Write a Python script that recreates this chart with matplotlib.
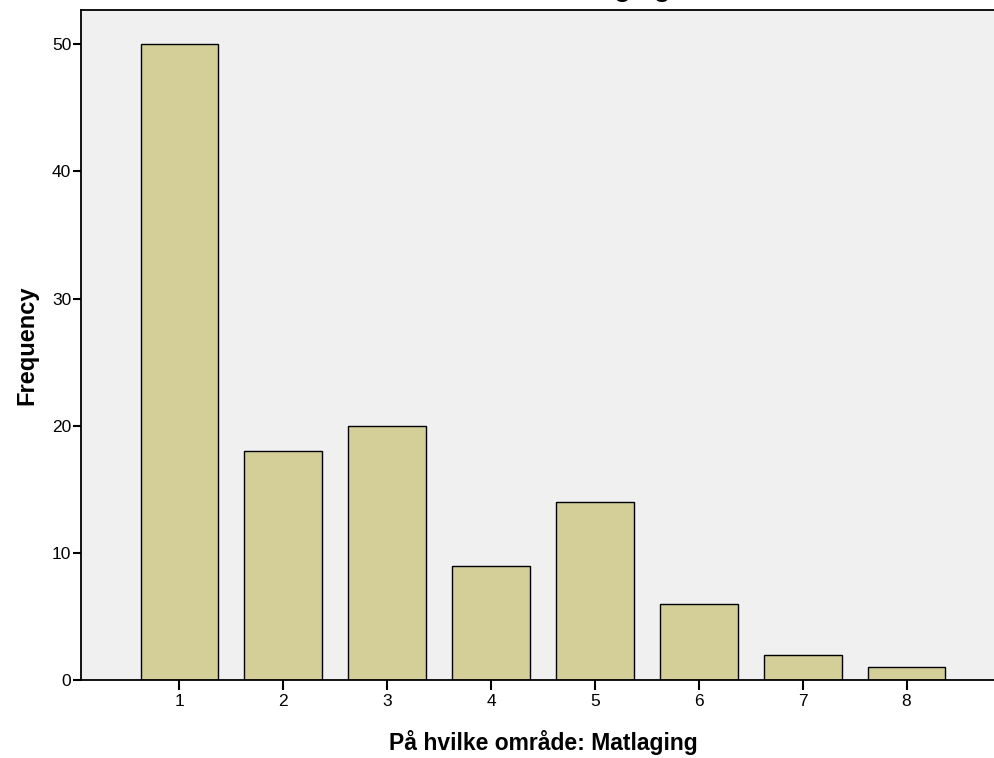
import matplotlib.pyplot as plt

plt.rcParams['font.family'] = ['Liberation Sans', 'DejaVu Sans']

# data
categories = [1, 2, 3, 4, 5, 6, 7, 8]
frequency = [50, 18, 20, 9, 14, 6, 2, 1]
y_ticks = [0, 10, 20, 30, 40, 50]

W, H = 994, 758
fig = plt.figure(figsize=(W / 100, H / 100), dpi=100)

# axes: left 81px, top 10px, bottom 680px, right spine just outside the picture
left, right, top, bottom = 81, 1005, 10, 680
ax = fig.add_axes([left / W, 1 - bottom / H, (right - left) / W, (bottom - top) / H])
ax.set_facecolor('#F0F0F0')

ax.bar(categories, frequency, width=0.75, color='#D4CF99',
       edgecolor='black', linewidth=1.0, zorder=2)

ax.set_xlim(0.052, 8.948)
ax.set_ylim(0, 52.7)
ax.set_xticks(categories)
ax.set_yticks(y_ticks)
ax.tick_params(axis='x', direction='out', length=7, width=1.5, labelsize=12.5, pad=3)
ax.tick_params(axis='y', direction='out', length=6, width=1.5, labelsize=12.5, pad=1)

for s in ax.spines.values():
    s.set_linewidth(1.3)

ax.set_xlabel('På hvilke område: Matlaging', fontsize=16.5, fontweight='bold', labelpad=15)
ax.set_ylabel('Frequency', fontsize=17, fontweight='bold', labelpad=10)

# title is mostly cut off at the top of the picture
fig.text(670 / W, 1 + 3.0 / H, 'På hvilke område: Matlaging', fontsize=19,
         fontweight='bold', ha='right', va='baseline')

fig.savefig('out.png', dpi=100)
